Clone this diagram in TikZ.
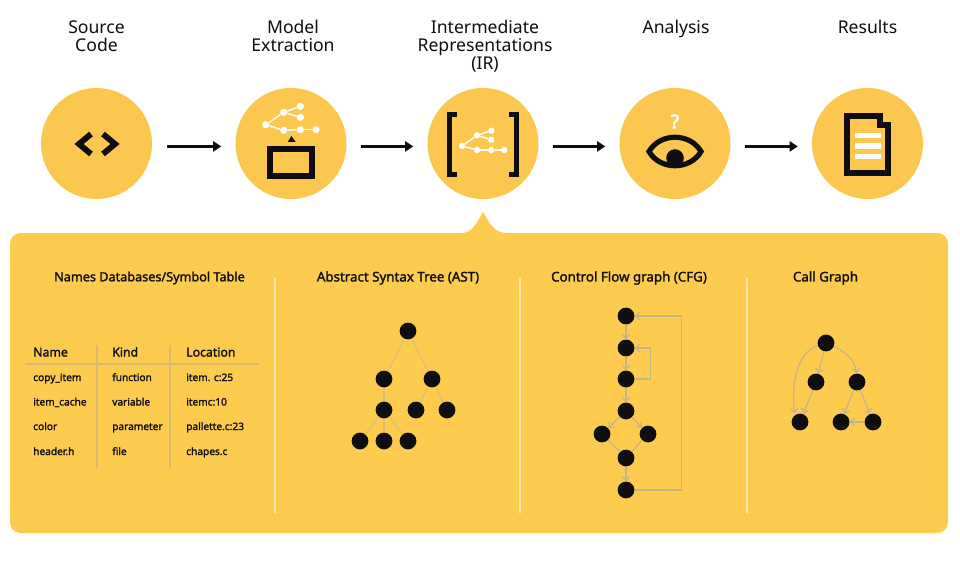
\documentclass[tikz,border=0pt]{standalone}
\usepackage{fontspec}
\setmainfont{Noto Sans}
\newfontfamily\semifont[FakeBold=1.6]{Noto Sans}
\newfontfamily\askfont[FakeBold=4]{Noto Sans}
\usetikzlibrary{arrows.meta}
\definecolor{irpanel}{HTML}{FDCB4E}
\definecolor{ircircle}{HTML}{FBC74F}
\definecolor{irdark}{HTML}{0E0E0E}
\definecolor{irtan}{HTML}{DDBF78}
\definecolor{irgrey}{HTML}{C4B48C}
\definecolor{irrule}{HTML}{D8B96E}
\definecolor{irdivide}{HTML}{FDE6AC}
\newcommand{\tstrut}{\rule{0pt}{10.5pt}}

\begin{document}
\begin{tikzpicture}[
x=0.75pt, y=-0.75pt,
steptitle/.style = {text=irdark, align=center, anchor=north, inner sep=0pt, font=\fontsize{13.2}{13.5}\selectfont},
paneltitle/.style = {text=irdark, inner sep=0pt, font=\semifont\fontsize{10}{11}\selectfont},
tablehead/.style = {text=irdark, anchor=base west, inner sep=0pt, font=\semifont\fontsize{9.2}{11}\selectfont},
tablecell/.style = {text=irdark, anchor=base west, inner sep=0pt, font=\semifont\fontsize{7.6}{9}\selectfont},
stepcircle/.style = {circle, fill=ircircle, minimum size=83.25pt, inner sep=0pt},
flow/.style = {draw=irdark, line width=2.2pt, -{Triangle[length=6pt, width=7.5pt]}, shorten <=11pt, shorten >=10.5pt},
icon/.style = {draw=irdark, line width=4.4pt, miter limit=10},
whitedot/.style = {circle, fill=white, minimum size=5.4pt, inner sep=0pt},
whiteline/.style = {draw=white, line width=1.1pt},
blackdot/.style = {circle, fill=irdark, minimum size=12.6pt, inner sep=0pt},
treeline/.style = {draw=irtan, line width=1pt},
flowline/.style = {draw=irgrey, line width=0.9pt, -{Straight Barb[length=3pt, width=5.5pt]}},
divider/.style = {draw=irdivide, line width=0.9pt},
tablerule/.style = {draw=irrule, line width=0.9pt}
]
\useasboundingbox (0,0) rectangle (960,563);
\fill[white] (0,0) rectangle (960,563);

% panel
\fill[irpanel, rounded corners=8pt] (10,233) rectangle (948,533);
\fill[irpanel] (460,234) -- (462,233) .. controls (472,233) and (476,224) .. (483,212)
	.. controls (490,224) and (494,233) .. (507,233) -- (509,234) -- cycle;

% top row
\node[stepcircle] (source) at (96.5,143.5) {};
\node[stepcircle] (model) at (291,143.5) {};
\node[stepcircle] (ir) at (483,143.5) {};
\node[stepcircle] (analysis) at (675,143.5) {};
\node[stepcircle] (results) at (867.5,143.5) {};
\draw[flow] ([yshift=-2.2pt]source.east) -- ([yshift=-2.2pt]model.west);
\draw[flow] ([yshift=-2.2pt]model.east) -- ([yshift=-2.2pt]ir.west);
\draw[flow] ([yshift=-2.2pt]ir.east) -- ([yshift=-2.2pt]analysis.west);
\draw[flow] ([yshift=-2.2pt]analysis.east) -- ([yshift=-2.2pt]results.west);

\node[steptitle] (sourcet) at (96.5,19) {\tstrut Source\\Code};
\node[steptitle] (modelt) at (293,19) {\tstrut Model\\Extraction};
\node[steptitle] (irt) at (485,19) {\tstrut Intermediate\\Representations\\(IR)};
\node[steptitle] (analysist) at (676,19) {\tstrut Analysis};
\node[steptitle] (resultst) at (867.5,19) {\tstrut Results};

% source icon
\draw[icon] (91,134) -- (79,144) -- (91,154);
\draw[icon] (103,134) -- (115,144) -- (103,154);

% model icon
\draw[icon] (270,149) rectangle (312,176);
\fill[irdark] (291.5,136) -- (295.7,142) -- (287.7,142) -- cycle;
\node[whitedot] (ma) at (265.7,124.7) {};
\node[whitedot] (mb) at (283.7,112.3) {};
\node[whitedot] (mc) at (300.3,106.3) {};
\node[whitedot] (md) at (300.3,117.3) {};
\node[whitedot] (me) at (283.7,130.3) {};
\node[whitedot] (mf) at (300.3,129.7) {};
\node[whitedot] (mg) at (316,129.7) {};
\draw[whiteline] (ma) -- (mb);
\draw[whiteline] (mb) -- (mc);
\draw[whiteline] (mb) -- (md);
\draw[whiteline] (ma) -- (me);
\draw[whiteline] (me) -- (mf);
\draw[whiteline] (mf) -- (mg);

% ir icon
\draw[icon, line width=3.9pt] (457,114.5) -- (449.5,114.5) -- (449.5,174.5) -- (457,174.5);
\draw[icon, line width=3.9pt] (509,114.5) -- (516.5,114.5) -- (516.5,174.5) -- (509,174.5);
\node[whitedot, minimum size=4.8pt] (ia) at (462,146) {};
\node[whitedot, minimum size=4.8pt] (ib) at (477,135.3) {};
\node[whitedot, minimum size=4.8pt] (ic) at (491.3,130.7) {};
\node[whitedot, minimum size=4.8pt] (id) at (491.3,139.7) {};
\node[whitedot, minimum size=4.8pt] (ie) at (477,150) {};
\node[whitedot, minimum size=4.8pt] (if) at (491.3,150) {};
\node[whitedot, minimum size=4.8pt] (ig) at (504.3,150) {};
\draw[whiteline] (ia) -- (ib);
\draw[whiteline] (ib) -- (ic);
\draw[whiteline] (ib) -- (id);
\draw[whiteline] (ia) -- (ie);
\draw[whiteline] (ie) -- (if);
\draw[whiteline] (if) -- (ig);

% analysis icon
\draw[icon, line width=3.9pt] (649,151.5) .. controls (660,132.5) and (690,132.5) .. (701,151.5)
	.. controls (690,170.5) and (660,170.5) .. (649,151.5) -- cycle;
\fill[irdark] (675,158) circle [radius=6.6pt];
\node[text=white, inner sep=0pt, font=\askfont\fontsize{14}{14}\selectfont] (ask) at (675,121.5) {?};

% results icon
\draw[icon] (847,116) -- (880,116) -- (880,124.7) -- (888,124.7) -- (888,173) -- (847,173) -- cycle;
\fill[white] (855,133) rectangle (880.7,138.5);
\fill[white] (855,143.3) rectangle (880.7,148.8);
\fill[white] (855,153.6) rectangle (880.7,159.1);

% panel titles
\node[paneltitle, font=\semifont\fontsize{9.5}{11}\selectfont] (namest) at (149.5,278) {Names Databases/Symbol Table};
\node[paneltitle] (astt) at (398,278) {Abstract Syntax Tree (AST)};
\node[paneltitle] (cfgt) at (629,278) {Control Flow graph (CFG)};
\node[paneltitle] (callt) at (825.5,278) {Call Graph};

\coordinate (diva) at (275,278);
\coordinate (divab) at (275,513);
\coordinate (divb) at (520,278);
\coordinate (divbb) at (520,513);
\coordinate (divc) at (747,278);
\coordinate (divcb) at (747,513);
\draw[divider] (diva) -- (divab);
\draw[divider] (divb) -- (divbb);
\draw[divider] (divc) -- (divcb);

% table
\coordinate (rulea) at (25,364);
\coordinate (ruleb) at (259,364);
\coordinate (colat) at (97,345);
\coordinate (colab) at (97,468);
\coordinate (colbt) at (170,345);
\coordinate (colbb) at (170,468);
\draw[tablerule] (rulea) -- (ruleb);
\draw[tablerule] (colat) -- (colab);
\draw[tablerule] (colbt) -- (colbb);
\node[tablehead] (hname) at (33,356.5) {Name};
\node[tablehead] (hkind) at (112,356.5) {Kind};
\node[tablehead] (hloc) at (186,356.5) {Location};
\node[tablecell] (aname) at (33,381) {copy\_item};
\node[tablecell] (akind) at (112,381) {function};
\node[tablecell] (aloc) at (186,381) {item. c:25};
\node[tablecell] (bname) at (33,405.5) {item\_cache};
\node[tablecell] (bkind) at (112,405.5) {variable};
\node[tablecell] (bloc) at (186,405.5) {itemc:10};
\node[tablecell] (cname) at (33,430) {color};
\node[tablecell] (ckind) at (112,430) {parameter};
\node[tablecell] (cloc) at (186,430) {pallette.c:23};
\node[tablecell] (dname) at (33,455) {header.h};
\node[tablecell] (dkind) at (112,455) {file};
\node[tablecell] (dloc) at (186,455) {chapes.c};

% ast
\node[blackdot] (astroot) at (408,331) {};
\node[blackdot] (astl) at (384,379) {};
\node[blackdot] (astr) at (432,379) {};
\node[blackdot] (astm) at (384,410) {};
\node[blackdot] (astra) at (416,410) {};
\node[blackdot] (astrb) at (447,410) {};
\node[blackdot] (asta) at (360,441) {};
\node[blackdot] (astb) at (384,441) {};
\node[blackdot] (astc) at (408,441) {};
\draw[treeline] (astroot) -- (astl);
\draw[treeline] (astroot) -- (astr);
\draw[treeline] (astl) -- (astm);
\draw[treeline] (astr) -- (astra);
\draw[treeline] (astr) -- (astrb);
\draw[treeline] (astm) -- (asta);
\draw[treeline] (astm) -- (astb);
\draw[treeline] (astm) -- (astc);

% cfg
\node[blackdot] (cfga) at (626,316) {};
\node[blackdot] (cfgb) at (626,348) {};
\node[blackdot] (cfgc) at (626,379) {};
\node[blackdot] (cfgd) at (626,411) {};
\node[blackdot] (cfgl) at (602,434) {};
\node[blackdot] (cfgr) at (648,434) {};
\node[blackdot] (cfge) at (626,458) {};
\node[blackdot] (cfgf) at (626,490) {};
\draw[flowline] (cfga) -- (cfgb);
\draw[flowline] (cfgb) -- (cfgc);
\draw[flowline] (cfgc) -- (cfgd);
\draw[flowline] (cfgd) -- (cfgl);
\draw[flowline] (cfgd) -- (cfgr);
\draw[flowline, -] (cfgl) -- (cfge);
\draw[flowline, -] (cfgr) -- (cfge);
\draw[flowline] (cfge) -- (cfgf);
\draw[flowline] (cfgc.east) -- ++(12pt,0) |- (cfgb.east);
\draw[flowline] (cfgf.east) -- ++(35pt,0) |- (cfga.east);

% call graph
\node[blackdot] (calla) at (826,343) {};
\node[blackdot] (callb) at (816,382) {};
\node[blackdot] (callc) at (857,382) {};
\node[blackdot] (calld) at (800,422) {};
\node[blackdot] (calle) at (841,422) {};
\node[blackdot] (callf) at (873,422) {};
\draw[flowline] (calla) .. controls (803,350) and (790,372) .. ([xshift=-4pt]calld.north);
\draw[flowline] (calla) -- (callb);
\draw[flowline] (calla) .. controls (842,350) and (855,358) .. (callc);
\draw[flowline] (callb) -- (calld);
\draw[flowline] (callc) -- (calle);
\draw[flowline] (callc) -- (callf);
\draw[flowline] (callf) -- (calle);
\end{tikzpicture}
\end{document}
